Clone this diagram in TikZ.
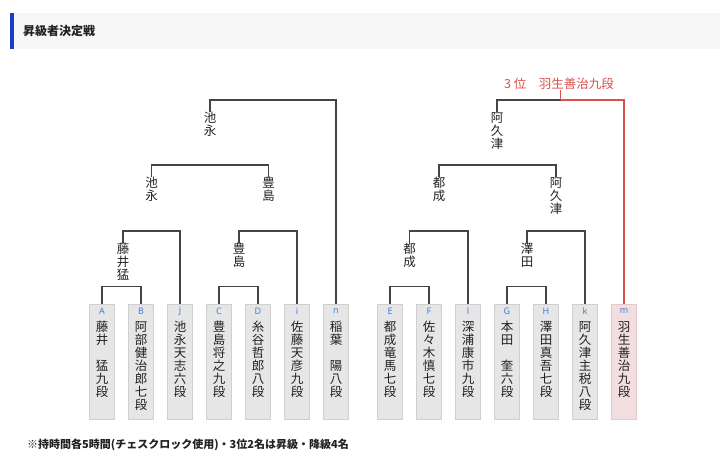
\documentclass[tikz,border=0pt]{standalone}
\usepackage{fontspec}
\newfontfamily\jp{Noto Sans CJK JP}
\newfontfamily\lat{Noto Sans}
\usetikzlibrary{positioning}
\definecolor{linegray}{HTML}{444444}
\definecolor{boxfill}{HTML}{E6E6E6}
\definecolor{boxline}{HTML}{CFCFCF}
\definecolor{pinkfill}{HTML}{F2DEDE}
\definecolor{pinkline}{HTML}{E3C9C9}
\definecolor{lossred}{HTML}{DC5050}
\definecolor{letterblue}{HTML}{3F7FE6}
\definecolor{headgray}{HTML}{F7F7F7}
\definecolor{headblue}{HTML}{1D3BCB}
\definecolor{txt}{HTML}{222222}

\begin{document}
\begin{tikzpicture}[x=1pt,y=-1pt,
  tline/.style={draw=linegray, line width=1.1pt},
  rline/.style={draw=lossred, line width=1.1pt},
  pbox/.style={draw=boxline, fill=boxfill, line width=0.8pt, minimum width=25pt, minimum height=115pt, inner sep=0pt},
  letter/.style={font=\lat\fontsize{9}{9}\selectfont, text=letterblue, inner sep=0pt},
  pname/.style={font=\jp\fontsize{12.5}{13}\selectfont, text=txt, align=center, inner sep=0pt, anchor=north},
  winlab/.style={font=\jp\fontsize{12.5}{13}\selectfont, text=txt, align=center, inner sep=0pt, anchor=north}]
\useasboundingbox (0,0) rectangle (720,466);

% header
\fill[headgray] (14,13) rectangle (720,49);
\fill[headblue] (10,13) rectangle (14,49);
\node[font=\jp\bfseries\fontsize{12}{12}\selectfont, text=txt, anchor=west, inner sep=0pt] (title) at (23,31) {昇級者決定戦};

% players
\foreach \x/\id/\txt in {102/A/{藤\\井\\　\\猛\\九\\段}, 141/B/{阿\\部\\健\\治\\郎\\七\\段},
    180/j/{池\\永\\天\\志\\六\\段}, 219/C/{豊\\島\\将\\之\\九\\段}, 258/D/{糸\\谷\\哲\\郎\\八\\段},
    297/i/{佐\\藤\\天\\彦\\九\\段}, 336/n/{稲\\葉\\　\\陽\\八\\段},
    390/E/{都\\成\\竜\\馬\\七\\段}, 429/F/{佐\\々\\木\\慎\\七\\段}, 468/l/{深\\浦\\康\\市\\九\\段},
    507/G/{本\\田\\　\\奎\\六\\段}, 546/H/{澤\\田\\真\\吾\\七\\段}, 585/k/{阿\\久\\津\\主\\税\\八\\段}} {
  \node[pbox] (\id) at (\x,361.5) {};
  \node[letter] (lt\id) at (\x,311) {\id};
  \node[pname] (nm\id) at (\x,321) {\txt};
}
\node[pbox, fill=pinkfill, draw=pinkline] (m) at (624,361.5) {};
\node[letter] (ltm) at (624,311) {m};
\node[pname] (nmm) at (624,321) {羽\\生\\善\\治\\九\\段};

% winners
\node[winlab] (fujii) at (123,243) {藤\\井\\猛};
\node[winlab] (toyoshimaA) at (239,243) {豊\\島};
\node[winlab] (ikenagaA) at (151.5,177) {池\\永};
\node[winlab] (toyoshimaB) at (268.5,177) {豊\\島};
\node[winlab] (ikenagaB) at (210,112) {池\\永};
\node[winlab] (tonariA) at (409.5,243) {都\\成};
\node[winlab] (sawada) at (527,243) {澤\\田};
\node[winlab] (tonariB) at (439,177) {都\\成};
\node[winlab] (akutsuA) at (556,177) {阿\\久\\津};
\node[winlab] (akutsuB) at (497,112) {阿\\久\\津};
\node[font=\jp\fontsize{12.5}{12}\selectfont, text=lossred, inner sep=0pt, anchor=south] (third) at (559,90) {3 位　羽生善治九段};

% brackets
\draw[tline] (A.north) -- ++(0,-17) -| (B.north);
\draw[tline] (C.north) -- ++(0,-17) -| (D.north);
\draw[tline] (E.north) -- ++(0,-17) -| (F.north);
\draw[tline] (G.north) -- ++(0,-17) -| (H.north);
\draw[tline] (fujii.north) -- ++(0,-12) -| (j.north);
\draw[tline] (toyoshimaA.north) -- ++(0,-12) -| (i.north);
\draw[tline] (tonariA.north) -- ++(0,-12) -| (l.north);
\draw[tline] (sawada.north) -- ++(0,-12) -| (k.north);
\draw[tline] (ikenagaA.north) -- ++(0,-12) -| (toyoshimaB.north);
\draw[tline] (tonariB.north) -- ++(0,-12) -| (akutsuA.north);
\draw[tline] (ikenagaB.north) -- ++(0,-12) -| (n.north);
\coordinate (final) at (560.5,100);
\draw[tline] (akutsuB.north) |- (final);
\draw[rline] (final) -| (m.north);
\draw[rline] (final) -- (final |- third.south);

% note
\node[font=\jp\bfseries\fontsize{11}{11}\selectfont, text=txt, anchor=west, inner sep=0pt] (note) at (27,445) {※持時間各5時間(チェスクロック使用)・3位2名は昇級・降級4名};
\end{tikzpicture}
\end{document}
